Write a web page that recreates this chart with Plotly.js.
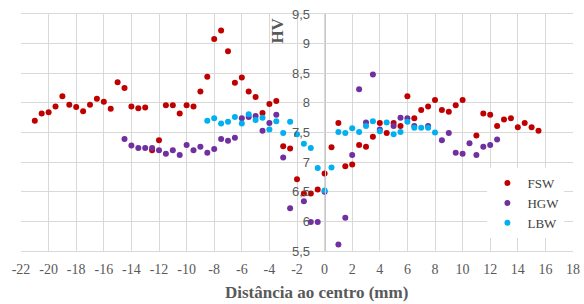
<!DOCTYPE html>
<html>
<head>
<meta charset="utf-8">
<script src="https://cdn.plot.ly/plotly-3.0.1.min.js"></script>
<style>html,body{margin:0;padding:0;background:#fff;}#chart{width:584px;height:304px;}</style>
</head>
<body>
<div id="chart"></div>
<script>
const seriesNames = ["FSW", "HGW", "LBW"];
const seriesColors = ["#C00000", "#7030A0", "#00B0F0"];

const fswDist = [-21,-20.5,-20,-19.5,-19,-18.5,-18,-17.5,-17,-16.5,-16,-15.5,-15,-14.5,-14,-13.5,-13,-12.5,-12,-11.5,-11,-10.5,-10,-9.5,-9,-8.5,-8,-7.5,-7,-6.5,-6,-5.5,-5,-4.5,-4,-3.5,-3,-2.5,-2,-1.5,-1,-0.5,0,0.5,1,1.5,2,2.5,3,3.5,4,4.5,5,5.5,6,6.5,7,7.5,8,8.5,9,9.5,10,11,11.5,12,12.5,13,13.5,14,14.5,15,15.5];
const fswHV = [7.70,7.82,7.84,7.94,8.11,7.97,7.93,7.86,7.97,8.07,8.02,7.90,8.35,8.25,7.94,7.91,7.92,7.20,7.37,7.96,7.96,7.82,7.96,7.94,8.19,8.44,9.08,9.22,8.87,8.34,8.43,8.19,8.10,7.83,7.98,8.03,7.27,7.23,6.71,6.47,6.47,6.54,6.81,7.25,7.66,6.93,6.96,7.29,7.26,7.43,7.66,7.49,7.66,7.61,8.11,7.74,7.88,7.94,8.05,7.88,7.85,7.96,8.05,7.45,7.82,7.80,7.61,7.72,7.74,7.59,7.66,7.59,7.53];

const hgwDist = [-14.5,-14,-13.5,-13,-12.5,-12,-11.5,-11,-10.5,-10,-9.5,-9,-8.5,-8,-7.5,-7,-6.5,-6,-5.5,-5,-4.5,-4,-3.5,-3,-2.5,-1.5,-1,-0.5,0,1,1.5,2,2.5,3,3.5,4,5,5.5,6,6.5,7.5,8.5,9,9.5,10,10.5,11,11.5,12,12.5];
const hgwHV = [7.39,7.28,7.24,7.24,7.24,7.20,7.14,7.20,7.12,7.29,7.20,7.26,7.16,7.22,7.39,7.36,7.41,7.74,7.76,7.78,7.53,7.66,7.80,7.08,6.22,6.34,5.99,5.99,6.50,5.61,6.06,7.12,8.23,7.67,8.48,7.55,7.61,7.75,7.74,7.61,7.61,7.37,7.49,7.16,7.14,7.32,7.12,7.26,7.29,7.38];

const lbwDist = [-8.5,-8,-7.5,-7,-6.5,-6,-5.5,-5,-4.5,-4,-3.5,-3,-2.5,-2,-1.5,-1,-0.5,0,0.5,1,1.5,2,2.5,3,3.5,4,4.5,5,5.5,6,6.5,7,7.5,8];
const lbwHV = [7.70,7.74,7.65,7.68,7.76,7.65,7.81,7.71,7.75,7.55,7.69,7.49,7.68,7.47,7.31,7.24,6.90,6.52,6.91,7.51,7.49,7.57,7.51,7.61,7.69,7.52,7.67,7.47,7.51,7.68,7.58,7.58,7.58,7.50];

const xTickVals = [-22,-20,-18,-16,-14,-12,-10,-8,-6,-4,-2,0,2,4,6,8,10,12,14,16,18];
const xTickText = ["-22","-20","-18","-16","-14","-12","-10","-8","-6","-4","-2","0","2","4","6","8","10","12","14","16","18"];

const xTitle = "Distância ao centro (mm)";
const yTitle = "HV";

const xs = [fswDist, hgwDist, lbwDist];
const ys = [fswHV, hgwHV, lbwHV];

const traces = seriesNames.map((n, i) => ({
  type: "scatter",
  mode: "markers",
  name: n,
  x: xs[i],
  y: ys[i],
  marker: {color: seriesColors[i], size: 6}
}));

const grid = "#d9d9d9";
const layout = {
  width: 584, height: 304,
  margin: {l: 21, r: 11, t: 14, b: 53, pad: 0},
  paper_bgcolor: "#ffffff", plot_bgcolor: "#ffffff",
  separators: ", ",
  showlegend: true,
  legend: {
    x: 0.845, y: 0.35, xanchor: "left", yanchor: "top",
    bgcolor: "#ffffff", borderwidth: 0,
    font: {family: "Liberation Serif", size: 13, color: "#404040"},
    tracegroupgap: 0, itemwidth: 30
  },
  xaxis: {
    range: [-22, 18],
    tickmode: "array", tickvals: xTickVals, ticktext: xTickText,
    showgrid: true, gridcolor: grid, gridwidth: 1,
    zeroline: false,
    showline: true, mirror: true, linecolor: grid, linewidth: 1,
    ticks: "", ticklabelstandoff: 5,
    tickfont: {family: "Liberation Serif", size: 14, color: "#595959"},
    fixedrange: true
  },
  yaxis: {
    range: [5.5, 9.5], dtick: 0.5, tick0: 5.5,
    anchor: "free", position: 0.55,
    showgrid: true, gridcolor: grid, gridwidth: 1,
    zeroline: false,
    showline: true, linecolor: "#c8c8c8", linewidth: 1,
    ticks: "", ticklabelstandoff: 12,
    tickfont: {family: "Liberation Sans", size: 13, color: "#595959"},
    fixedrange: true
  },
  annotations: [
    {text: xTitle, xref: "paper", yref: "paper", x: 0.5345, y: -0.175,
     xanchor: "center", yanchor: "middle", showarrow: false,
     font: {family: "Liberation Serif", size: 17, color: "#595959", weight: "bold"}},
    {text: yTitle, xref: "paper", yref: "paper", x: 0.4656, y: 0.93,
     xanchor: "center", yanchor: "middle", showarrow: false, textangle: -90,
     font: {family: "Liberation Serif", size: 17, color: "#595959", weight: "bold"}}
  ]
};

Plotly.newPlot("chart", traces, layout, {displayModeBar: false, staticPlot: true});
</script>
</body>
</html>
